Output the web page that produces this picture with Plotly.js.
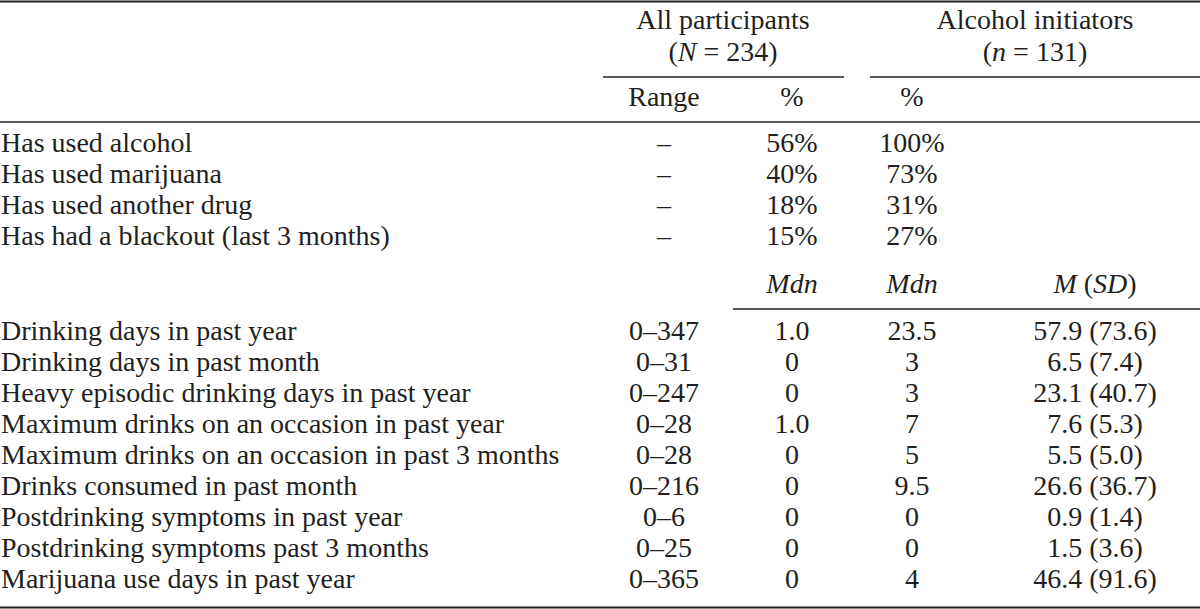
<!DOCTYPE html>
<html>
<head>
<meta charset="utf-8">
<script src="https://cdn.plot.ly/plotly-3.0.1.min.js"></script>
<style>html,body{margin:0;padding:0;background:#fff;}#chart{width:1200px;height:609px;}</style>
</head>
<body>
<div id="chart"></div>
<script>
// ---- Data ----
const groupTitles = ["All participants", "Alcohol initiators"];
const groupNs = ["(<i>N</i> = 234)", "(<i>n</i> = 131)"];
const pctHeaders = ["Range", "%", "%"];
const pctLabels = ["Has used alcohol", "Has used marijuana", "Has used another drug", "Has had a blackout (last 3 months)"];
const pctRange = ["–", "–", "–", "–"];
const pctAll = ["56%", "40%", "18%", "15%"];
const pctInit = ["100%", "73%", "31%", "27%"];

const contHeaders = ["<i>Mdn</i>", "<i>Mdn</i>", "<i>M</i> (<i>SD</i>)"];
const contLabels = [
  "Drinking days in past year",
  "Drinking days in past month",
  "Heavy episodic drinking days in past year",
  "Maximum drinks on an occasion in past year",
  "Maximum drinks on an occasion in past 3 months",
  "Drinks consumed in past month",
  "Postdrinking symptoms in past year",
  "Postdrinking symptoms past 3 months",
  "Marijuana use days in past year"
];
const contRange = ["0–347", "0–31", "0–247", "0–28", "0–28", "0–216", "0–6", "0–25", "0–365"];
const mdnAll = ["1.0", "0", "0", "1.0", "0", "0", "0", "0", "0"];
const mdnInit = ["23.5", "3", "3", "7", "5", "9.5", "0", "0", "4"];
const meanInit = ["57.9", "6.5", "23.1", "7.6", "5.5", "26.6", "0.9", "1.5", "46.4"];
const sdInit = ["73.6", "7.4", "40.7", "5.3", "5.0", "36.7", "1.4", "3.6", "91.6"];

// ---- Layout constants ----
const INK = "#231f20";
const FONT = {family: "Liberation Serif, Times New Roman, serif", size: 28, color: INK};
const colX = {label: 1, range: 664, all: 792, init: 912, msd: 1095};
const groupX = [723, 1035];
const yGroupTitle = 22, yGroupN = 54, yPctHead = 99, yPct0 = 145, rowStep = 31, yContHead = 286, yCont0 = 333;

function col(x, ys, texts, pos) {
  return {
    type: "scatter", mode: "text", x: ys.map(() => x), y: ys, text: texts,
    textposition: pos || "middle center", textfont: FONT, hoverinfo: "skip", showlegend: false, cliponaxis: false
  };
}
const pctY = pctLabels.map((_, i) => yPct0 + i * rowStep);
const contY = contLabels.map((_, i) => yCont0 + i * rowStep);
const msd = meanInit.map((m, i) => m + " (" + sdInit[i] + ")");

const traces = [
  col(groupX[0], [yGroupTitle, yGroupN], [groupTitles[0], groupNs[0]]),
  col(groupX[1], [yGroupTitle, yGroupN], [groupTitles[1], groupNs[1]]),
  col(colX.range, [yPctHead], [pctHeaders[0]]),
  col(colX.all, [yPctHead], [pctHeaders[1]]),
  col(colX.init, [yPctHead], [pctHeaders[2]]),
  col(colX.label, pctY, pctLabels, "middle right"),
  col(colX.range, pctY, pctRange),
  col(colX.all, pctY, pctAll),
  col(colX.init, pctY, pctInit),
  col(colX.all, [yContHead], [contHeaders[0]]),
  col(colX.init, [yContHead], [contHeaders[1]]),
  col(colX.msd, [yContHead], [contHeaders[2]]),
  col(colX.label, contY, contLabels, "middle right"),
  col(colX.range, contY, contRange),
  col(colX.all, contY, mdnAll),
  col(colX.init, contY, mdnInit),
  col(colX.msd, contY, msd)
];

function rule(x0, x1, y, w) {
  return {type: "line", xref: "x", yref: "y", x0: x0, x1: x1, y0: y, y1: y, line: {color: INK, width: w}};
}
const shapes = [
  rule(0, 1200, 1.5, 2),
  rule(603, 844, 77, 1.5),
  rule(870, 1200, 77, 1.5),
  rule(0, 1200, 122, 1.5),
  rule(733, 1200, 309, 1.5),
  rule(0, 1200, 607.5, 2)
];

const layout = {
  width: 1200, height: 609,
  margin: {l: 0, r: 0, t: 0, b: 0, pad: 0},
  paper_bgcolor: "#ffffff", plot_bgcolor: "#ffffff",
  xaxis: {range: [0, 1200], visible: false, fixedrange: true},
  yaxis: {range: [609, 0], visible: false, fixedrange: true},
  shapes: shapes,
  showlegend: false
};
Plotly.newPlot("chart", traces, layout, {displayModeBar: false, staticPlot: true});
</script>
</body>
</html>
